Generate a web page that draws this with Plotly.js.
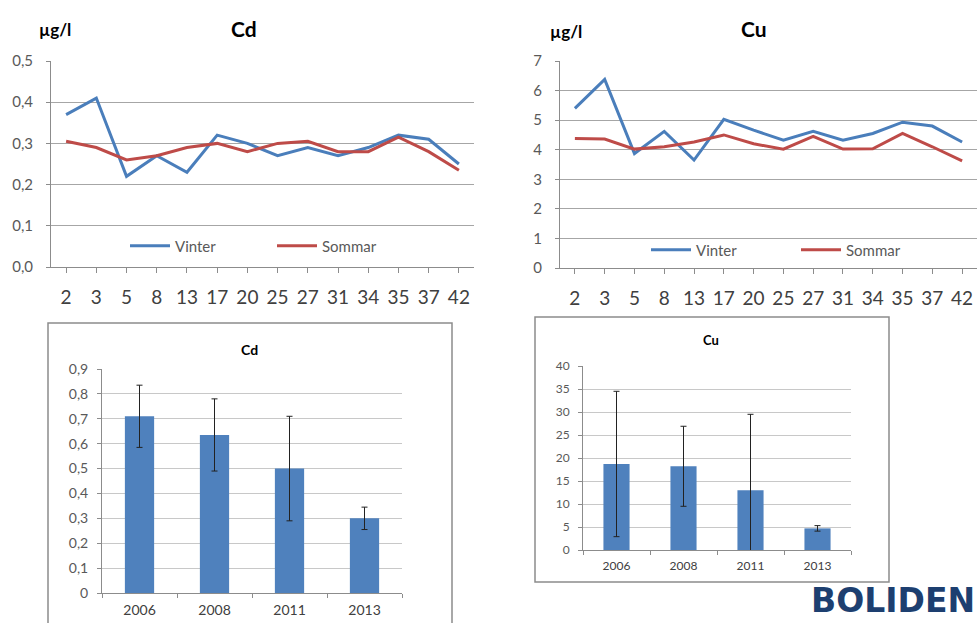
<!DOCTYPE html>
<html>
<head>
<meta charset="utf-8">
<script src="https://cdn.plot.ly/plotly-3.0.1.min.js"></script>
<style>html,body{margin:0;padding:0;background:#fff;}#chart{width:979px;height:623px;}</style>
</head>
<body>
<div id="chart"></div>
<script>
// ---- data ----
const stations = ["2","3","5","8","13","17","20","25","27","31","34","35","37","42"];
const cdVinter  = [0.37,0.41,0.22,0.27,0.23,0.32,0.30,0.27,0.29,0.27,0.29,0.32,0.31,0.25];
const cdSommar  = [0.305,0.29,0.26,0.27,0.29,0.30,0.28,0.30,0.305,0.28,0.28,0.315,0.28,0.235];
const cuVinter  = [5.4,6.38,3.87,4.62,3.65,5.03,4.66,4.32,4.62,4.32,4.55,4.93,4.8,4.26];
const cuSommar  = [4.38,4.36,4.02,4.1,4.26,4.5,4.2,4.02,4.45,4.02,4.03,4.55,4.1,3.62];

const years   = ["2006","2008","2011","2013"];
const cdYear  = [0.71,0.635,0.50,0.30];
const cdErr   = [0.125,0.145,0.21,0.045];
const cuYear  = [18.7,18.2,13.0,4.7];
const cuErr   = [15.8,8.7,16.5,0.6];

// ---- styles ----
const FONT = "Lato, 'Liberation Sans', sans-serif";
const BLUE = "#4a7ebb", RED = "#be4b48", BAR = "#4f81bd";
const GRID = "#a6a6a6", GRID2 = "#c8c8c8", AX = "#8c8c8c", TXT = "#404040";

const traces = [
  {x: stations, y: cdVinter, type: "scatter", mode: "lines", name: "Vinter",
   line: {color: BLUE, width: 3}, xaxis: "x", yaxis: "y", legend: "legend"},
  {x: stations, y: cdSommar, type: "scatter", mode: "lines", name: "Sommar",
   line: {color: RED, width: 3}, xaxis: "x", yaxis: "y", legend: "legend"},
  {x: stations, y: cuVinter, type: "scatter", mode: "lines", name: "Vinter",
   line: {color: BLUE, width: 3}, xaxis: "x2", yaxis: "y2", legend: "legend2"},
  {x: stations, y: cuSommar, type: "scatter", mode: "lines", name: "Sommar",
   line: {color: RED, width: 3}, xaxis: "x2", yaxis: "y2", legend: "legend2"},
  {x: years, y: cdYear, type: "bar", marker: {color: BAR}, showlegend: false,
   error_y: {type: "data", array: cdErr, visible: true, color: "#222", thickness: 1, width: 3},
   xaxis: "x3", yaxis: "y3"},
  {x: years, y: cuYear, type: "bar", marker: {color: BAR}, showlegend: false,
   error_y: {type: "data", array: cuErr, visible: true, color: "#222", thickness: 1, width: 3},
   xaxis: "x4", yaxis: "y4"}
];

const W = 979, H = 623;
const px = v => v / W, py = v => 1 - v / H;

function topX(dom, anchor) {
  return {domain: dom, anchor: anchor, type: "category", range: [-0.5, 13.5], showgrid: false,
    showline: true, linecolor: AX, linewidth: 1, ticks: "outside", ticklen: 5, tickcolor: AX,
    tickfont: {family: FONT, size: 19, color: TXT}, ticklabelstandoff: 8, fixedrange: true};
}
function catX(dom, anchor, size, standoff) {
  return {domain: dom, anchor: anchor, type: "category", range: [-0.5, 3.5], showgrid: false,
    showline: true, linecolor: AX, linewidth: 1, ticks: "outside", ticklen: 4, tickcolor: AX,
    tickson: "boundaries", tickfont: {family: FONT, size: size, color: TXT},
    ticklabelstandoff: standoff, fixedrange: true};
}
function valY(dom, anchor, range, dtick, size, standoff, grid, fmt) {
  const a = {domain: dom, anchor: anchor, range: range, dtick: dtick,
    showgrid: true, gridcolor: grid, gridwidth: 1, zeroline: false,
    showline: true, linecolor: AX, ticks: "outside", ticklen: 4, tickcolor: AX,
    tickfont: {family: FONT, size: size, color: "#595959"}, ticklabelstandoff: standoff, fixedrange: true};
  if (fmt) a.tickformat = fmt;
  return a;
}

const layout = {
  width: W, height: H, margin: {l: 0, r: 0, t: 0, b: 0},
  paper_bgcolor: "#fff", plot_bgcolor: "rgba(0,0,0,0)",
  separators: ", ", bargap: 0.61,
  font: {family: FONT, color: TXT},
  xaxis:  topX([px(51), px(474)], "y"),
  yaxis:  valY([py(267), py(61)], "x", [0, 0.5], 0.1, 15, 10, GRID, ".1f"),
  xaxis2: topX([px(560), px(977)], "y2"),
  yaxis2: valY([py(268), py(61)], "x2", [0, 7], 1, 15, 10, GRID),
  xaxis3: catX([px(102), px(402)], "y3", 14, 4),
  yaxis3: valY([py(593), py(369)], "x3", [0, 0.9], 0.1, 14, 6, GRID2),
  xaxis4: catX([px(583), px(851)], "y4", 12, 5),
  yaxis4: valY([py(550), py(366)], "x4", [0, 40], 5, 12, 6, GRID2),
  legend: {orientation: "h", x: px(125), y: py(246), xanchor: "left", yanchor: "middle",
    bgcolor: "rgba(255,255,255,0)", font: {family: FONT, size: 15, color: "#595959"},
    entrywidth: 92, itemwidth: 40, tracegroupgap: 0},
  legend2: {orientation: "h", x: px(646), y: py(250), xanchor: "left", yanchor: "middle",
    bgcolor: "rgba(255,255,255,0)", font: {family: FONT, size: 15, color: "#595959"},
    entrywidth: 95, itemwidth: 40, tracegroupgap: 0},
  shapes: [
    {type: "rect", xref: "paper", yref: "paper", x0: px(48), x1: px(452), y0: -0.05, y1: py(323),
     line: {color: "#8c8c8c", width: 1.5}, fillcolor: "rgba(0,0,0,0)", layer: "below"},
    {type: "rect", xref: "paper", yref: "paper", x0: px(535), x1: px(889), y0: py(582), y1: py(317),
     line: {color: "#8c8c8c", width: 1.5}, fillcolor: "rgba(0,0,0,0)", layer: "below"}
  ],
  annotations: [
    {text: "<b>Cd</b>", xref: "paper", yref: "paper", x: px(244), y: py(28), showarrow: false,
     font: {family: FONT, size: 21, color: "#000"}, xanchor: "center", yanchor: "middle"},
    {text: "<b>µg/l</b>", xref: "paper", yref: "paper", x: px(55), y: py(30), showarrow: false,
     font: {family: FONT, size: 17, color: "#000"}, xanchor: "center", yanchor: "middle"},
    {text: "<b>Cu</b>", xref: "paper", yref: "paper", x: px(754), y: py(28), showarrow: false,
     font: {family: FONT, size: 21, color: "#000"}, xanchor: "center", yanchor: "middle"},
    {text: "<b>µg/l</b>", xref: "paper", yref: "paper", x: px(566), y: py(32), showarrow: false,
     font: {family: FONT, size: 17, color: "#000"}, xanchor: "center", yanchor: "middle"},
    {text: "<b>Cd</b>", xref: "paper", yref: "paper", x: px(249), y: py(349), showarrow: false,
     font: {family: FONT, size: 14, color: "#000"}, xanchor: "center", yanchor: "middle"},
    {text: "<b>Cu</b>", xref: "paper", yref: "paper", x: px(711), y: py(340), showarrow: false,
     font: {family: FONT, size: 13, color: "#000"}, xanchor: "center", yanchor: "middle"},
    {text: "<b>BOLIDEN</b>", xref: "paper", yref: "paper", x: px(977), y: py(622), showarrow: false,
     font: {family: "'DejaVu Sans', sans-serif", size: 33, color: "#1d3f70"}, xanchor: "right", yanchor: "bottom"}
  ]
};

Plotly.newPlot("chart", traces, layout, {displayModeBar: false, staticPlot: true});
</script>
</body>
</html>
